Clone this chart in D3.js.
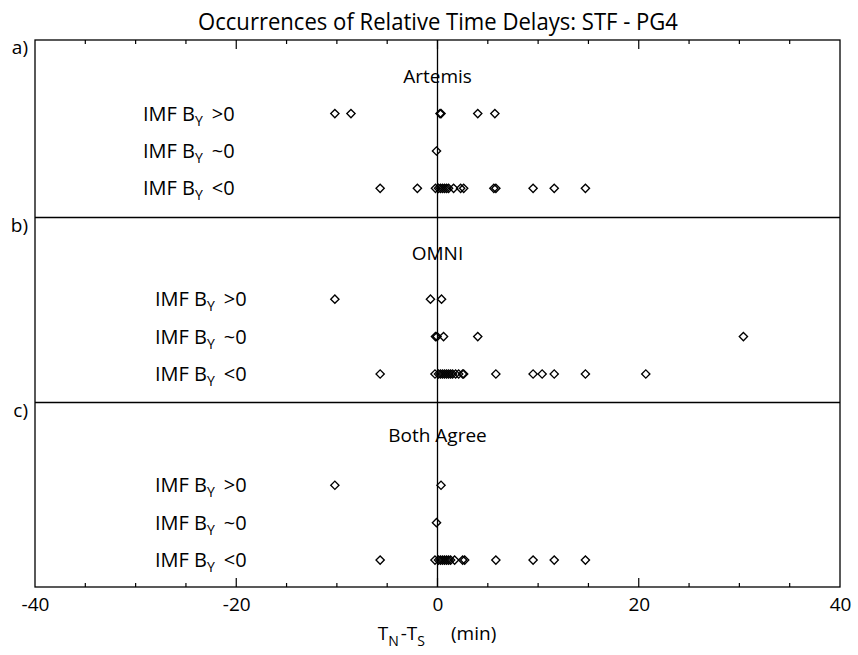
<!DOCTYPE html>
<html>
<head>
<meta charset="utf-8">
<script src="https://cdn.jsdelivr.net/npm/d3@7"></script>
<style>
  body { margin: 0; background: #fff; }
  svg { font-family: "Open Sans", "Noto Sans", sans-serif; }
</style>
</head>
<body>
<svg id="canvas" width="858" height="655"></svg>
<script>
// data (minutes)
const rowLabels = ['>0', '~0', '<0'];
const panelTags = ['a)', 'b)', 'c)'];
const panelTitles = ['Artemis', 'OMNI', 'Both Agree'];

const artemisPos = [-10.2, -8.6, 0.25, 0.35, 4.0, 5.7];
const artemisZero = [-0.1];
const artemisNeg = [-5.7, -2.0, -0.2, 0.1, 0.3, 0.5, 0.7, 0.9, 1.1, 1.6, 2.3, 2.6, 5.6, 5.8, 9.5, 11.6, 14.7];

const omniPos = [-10.2, -0.7, 0.4];
const omniZero = [-0.2, -0.05, 0.6, 4.0, 30.4];
const omniNeg = [-5.7, -0.25, 0.1, 0.3, 0.5, 0.7, 0.9, 1.1, 1.3, 1.5, 1.8, 2.1, 2.5, 2.6, 5.8, 9.5, 10.4, 11.6, 14.7, 20.7];

const bothPos = [-10.2, 0.35];
const bothZero = [-0.1];
const bothNeg = [-5.7, -0.25, 0.1, 0.3, 0.5, 0.7, 0.9, 1.1, 1.3, 1.7, 2.5, 2.7, 5.8, 9.5, 11.6, 14.7];

const xTickLabels = [-40, -20, 0, 20, 40];
const xMinorTicks = d3.range(-40, 41, 5);

const seriesByPanel = [
    [artemisPos, artemisZero, artemisNeg],
    [omniPos, omniZero, omniNeg],
    [bothPos, bothZero, bothNeg]
];

// layout
const svg = d3.select('#canvas');
const plotLeft = 35, plotRight = 840;
const plotTop = 40, plotBottom = 587;
const panelEdges = [plotTop, 217.5, 402.5, plotBottom];
const panelDomains = [[0.22, 4.97], [0.24, 5.18], [0.28, 5.21]];
const titleRows = [4.0, 4.22, 4.35];
const labelX = [143, 155, 155];

const x = d3.scaleLinear().domain([-40, 40]).range([plotLeft, plotRight]);

const diamond = d3.symbol().type(d3.symbolSquare).size(34);

// title (Myriad-like width: squeeze a bit)
svg.append('text')
    .attr('x', 438)
    .attr('y', 30)
    .attr('text-anchor', 'middle')
    .attr('textLength', 480)
    .attr('lengthAdjust', 'spacingAndGlyphs')
    .style('font-size', '24px')
    .text('Occurrences of Relative Time Delays:  STF - PG4');

seriesByPanel.forEach((rows, p) => {
    const y = d3.scaleLinear()
        .domain(panelDomains[p])
        .range([panelEdges[p + 1], panelEdges[p]]);
    const g = svg.append('g').attr('class', 'panel');

    // panel tag
    g.append('text')
        .attr('x', 28)
        .attr('y', panelEdges[p] + 14)
        .attr('text-anchor', 'end')
        .style('font-size', '19px')
        .text(panelTags[p]);

    // panel title
    g.append('text')
        .attr('x', x(0))
        .attr('y', y(titleRows[p]) + 7)
        .attr('text-anchor', 'middle')
        .style('font-size', '19px')
        .text(panelTitles[p]);

    rows.forEach((vals, r) => {
        const rowVal = 3 - r;
        const t = g.append('text')
            .attr('x', labelX[p])
            .attr('y', y(rowVal) + 7)
            .style('font-size', '20px');
        t.append('tspan').text('IMF B');
        t.append('tspan').attr('dy', 5).style('font-size', '14px').text('Y');
        t.append('tspan').attr('dy', -5).attr('dx', 9).text(rowLabels[r]);

        g.selectAll(null)
            .data(vals)
            .join('path')
            .attr('d', diamond)
            .attr('transform', d => `translate(${x(d)},${y(rowVal)}) rotate(45)`)
            .attr('fill', 'none')
            .attr('stroke', '#000')
            .attr('stroke-width', 1.35);
    });

    // divider under panel
    if (p < 2) {
        g.append('line')
            .attr('x1', plotLeft).attr('x2', plotRight)
            .attr('y1', panelEdges[p + 1]).attr('y2', panelEdges[p + 1])
            .attr('stroke', '#000').attr('stroke-width', 1.3);
    }
});

// zero line
svg.append('line')
    .attr('x1', x(0)).attr('x2', x(0))
    .attr('y1', plotTop).attr('y2', plotBottom)
    .attr('stroke', '#000').attr('stroke-width', 1.3);

// box
svg.append('rect')
    .attr('x', plotLeft).attr('y', plotTop)
    .attr('width', plotRight - plotLeft).attr('height', plotBottom - plotTop)
    .attr('fill', 'none').attr('stroke', '#000').attr('stroke-width', 1.3);

// ticks top and bottom, pointing inward
const tickLen = d => (d % 20 === 0 ? 9 : 4);
const innerTicks = xMinorTicks.filter(d => d > -40 && d < 40);
svg.append('g').selectAll('line')
    .data(innerTicks)
    .join('line')
    .attr('x1', d => x(d)).attr('x2', d => x(d))
    .attr('y1', plotTop).attr('y2', d => plotTop + tickLen(d))
    .attr('stroke', '#000').attr('stroke-width', 1.2);
svg.append('g').selectAll('line')
    .data(innerTicks)
    .join('line')
    .attr('x1', d => x(d)).attr('x2', d => x(d))
    .attr('y1', plotBottom).attr('y2', d => plotBottom - tickLen(d))
    .attr('stroke', '#000').attr('stroke-width', 1.2);

// tick labels (plain hyphen like the original)
const xAxis = d3.axisBottom(x).tickValues(xTickLabels).tickSize(0).tickPadding(11)
    .tickFormat(d => String(d));
svg.append('g')
    .attr('transform', `translate(0,${plotBottom})`)
    .call(xAxis)
    .call(g => g.select('.domain').remove())
    .call(g => g.selectAll('text')
        .style('font-family', '"Open Sans", sans-serif')
        .style('font-size', '19px')
        .attr('fill', '#000'));

// axis title
const xt = svg.append('text')
    .attr('x', 437)
    .attr('y', 640)
    .attr('text-anchor', 'middle')
    .style('font-size', '19px');
xt.append('tspan').text('T');
xt.append('tspan').attr('dy', 6).style('font-size', '14px').text('N');
xt.append('tspan').attr('dy', -6).attr('dx', 2).text('-T');
xt.append('tspan').attr('dy', 6).style('font-size', '14px').text('S');
xt.append('tspan').attr('dy', -6).attr('dx', 26).text('(min)');
</script>
</body>
</html>
